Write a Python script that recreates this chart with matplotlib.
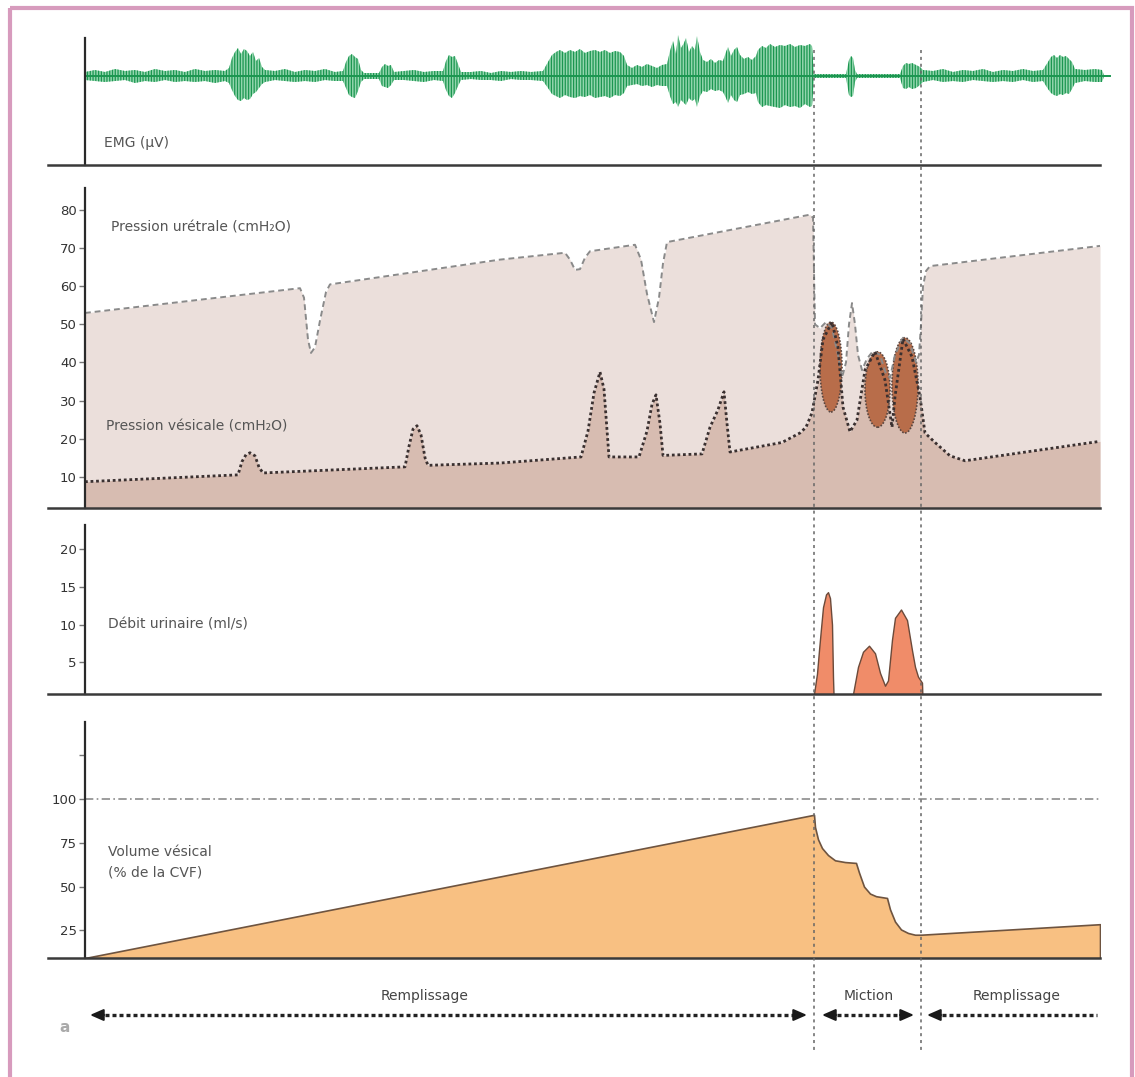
import numpy as np
import matplotlib.pyplot as plt
from matplotlib.patches import Ellipse, Rectangle

W, H = 1135, 1077

# time runs along image columns, the y axes sit at t = 85
miction_start = 814
miction_end = 921

# EMG envelope (amplitude above / below the baseline)
emg_t = [85, 95, 105, 115, 125, 135, 145, 155, 165, 175, 185, 195, 205, 215, 225,
         229, 232, 235, 238, 241, 244, 247, 250, 253, 256, 259, 262, 265,
         275, 285, 295, 305, 315, 325, 335, 343,
         346, 349, 352, 355, 358, 361, 364, 379, 382, 385, 388, 391, 394,
         404, 414, 424, 434, 443, 446, 449, 452, 455, 458, 461,
         471, 481, 491, 501, 511, 521, 531, 543,
         548, 552, 556, 560, 565, 570, 575, 580, 585, 590, 595, 600, 605, 610, 615, 620, 624, 627,
         632, 637, 642, 647, 652, 657, 662, 667,
         670, 673, 676, 678, 681, 684, 686, 689, 692, 695, 697, 700, 703,
         707, 711, 715, 719, 723, 726, 728, 731, 734, 737, 740, 744, 748, 752, 756,
         758, 762, 766, 770, 775, 780, 785, 790, 795, 800, 805, 810, 812,
         814, 846, 849, 851, 853, 855, 857, 900, 903, 906, 909, 912, 916, 920, 923,
         933, 943, 953, 963, 973, 983, 993, 1003, 1013, 1023, 1033, 1043,
         1048, 1051, 1054, 1057, 1060, 1063, 1066, 1069, 1072, 1075,
         1085, 1095, 1102, 1104, 1110]
emg_up = [4, 6, 4, 7, 5, 6, 4, 7, 5, 6, 4, 7, 5, 6, 5,
          8, 18, 24, 28, 22, 27, 25, 20, 24, 15, 18, 9, 6,
          5, 7, 4, 6, 5, 7, 4, 5,
          14, 20, 22, 19, 17, 6, 3, 3, 9, 12, 10, 11, 4,
          5, 6, 4, 5, 5, 15, 21, 19, 20, 12, 4,
          4, 5, 3, 5, 4, 5, 4, 5,
          14, 21, 24, 26, 23, 26, 24, 27, 23, 25, 26, 24, 26, 23, 25, 24, 20, 11,
          8, 11, 9, 12, 10, 8, 11, 12,
          25, 35, 22, 41, 28, 33, 38, 24, 30, 26, 40, 24, 16,
          14, 17, 13, 16, 15, 24, 29, 20, 26, 29, 21, 17, 19, 16, 20,
          26, 30, 28, 32, 29, 31, 30, 32, 29, 31, 30, 32, 30,
          2, 2, 16, 20, 18, 6, 2, 2, 10, 13, 12, 13, 11, 9, 6,
          5, 7, 4, 6, 5, 7, 4, 6, 5, 7, 5, 6,
          14, 19, 21, 18, 21, 19, 20, 17, 14, 7,
          6, 7, 6, 1, 1]
emg_dn = [4, 5, 6, 5, 4, 7, 5, 6, 4, 6, 5, 6, 5, 7, 5,
          7, 14, 20, 24, 25, 22, 24, 23, 18, 16, 12, 8, 6,
          4, 5, 6, 5, 6, 4, 5, 5,
          12, 19, 21, 22, 15, 6, 3, 3, 10, 11, 12, 9, 4,
          4, 5, 6, 4, 5, 14, 20, 22, 17, 10, 4,
          3, 4, 4, 5, 3, 4, 4, 5,
          12, 18, 20, 22, 19, 21, 22, 20, 21, 19, 22, 21, 20, 22, 19, 20, 17, 10,
          9, 8, 10, 9, 11, 9, 10, 10,
          20, 28, 26, 31, 24, 27, 29, 22, 25, 23, 31, 20, 15,
          16, 13, 15, 14, 16, 22, 27, 19, 24, 26, 19, 18, 16, 18, 17,
          26, 31, 29, 30, 31, 32, 29, 31, 30, 32, 28, 31, 30,
          2, 2, 19, 21, 20, 6, 2, 2, 12, 13, 11, 13, 12, 9, 6,
          4, 6, 5, 6, 4, 5, 6, 5, 6, 4, 6, 5,
          13, 17, 19, 20, 18, 19, 17, 18, 13, 7,
          5, 6, 6, 1, 1]

# urethral pressure (cmH2O)
ure_t = [85, 300, 304, 308, 311, 315, 320, 326, 330, 500, 565, 570, 575, 580, 585, 590,
         635, 641, 647, 654, 659, 663, 667, 810, 813, 815, 820, 826, 832, 838, 842, 846,
         849, 852, 855, 858, 862, 867, 873, 880, 886, 890, 895, 903, 910, 916, 919, 921,
         923, 926, 930, 1100]
ure_p = [53, 59.5, 57, 46, 42.5, 44, 51, 58.5, 60.5, 67, 68.8, 67, 64.3, 64.5, 67.5, 69.2,
         70.9, 67, 58, 50.6, 57, 66, 71.6, 78.8, 78, 50, 49, 50.6, 49, 42, 36, 40,
         50, 55.6, 50, 42, 38, 41, 43, 42, 37, 36, 42, 46.5, 45, 40, 42, 50,
         60, 64, 65.3, 70.6]

# bladder pressure (cmH2O)
ves_t = [85, 238, 242, 246, 250, 255, 259, 263, 405, 409, 413, 417, 421, 425, 428, 500,
         581, 588, 594, 600, 604, 609, 639, 647, 652, 656, 660, 663, 702, 710, 718, 724,
         727, 730, 782, 800, 806, 812, 818, 823, 832, 838, 843, 850, 857, 865, 875, 885,
         892, 895, 903, 912, 920, 925, 935, 950, 965, 1100]
ves_p = [8.7, 10.5, 14, 15.8, 16.3, 15.5, 12.5, 11, 12.6, 18, 22.5, 23.4, 21, 15, 13, 13.6,
         15.2, 22, 32, 37.5, 33, 15.2, 15.2, 22, 29, 31.5, 24, 15.6, 16, 23, 27.6, 32.3,
         24, 16.5, 19, 21.5, 23, 26.8, 35.4, 46, 50.6, 44, 28.3, 21.8, 24.9, 38, 42.8, 35.4,
         23, 31, 46.2, 41.5, 31, 21.5, 19, 15.5, 14.2, 19.3]

# detrusor contractions shaded during voiding
contr_t = [831, 877.5, 905]
contr_w = [22, 25, 26]
contr_lo = [27, 23, 21.5]
contr_hi = [50.6, 42.8, 46.5]

# urinary flow (ml/s)
flow_t = [812, 814, 817, 819, 821, 823, 826, 828, 830, 832, 833, 833.5, 835,
          851, 853, 858, 863, 869, 875, 880, 885, 888, 892, 895, 901, 907, 912,
          915, 918, 922, 922.5]
flow_q = [0, 0.8, 3.5, 6.6, 9.5, 12.3, 14, 14.3, 13.5, 10, 3, 0.8, 0,
          0, 0.8, 4.4, 6.4, 7.2, 6.2, 3.6, 1.9, 2.6, 8, 10.9, 12, 10.6, 6.6,
          4.4, 3.1, 2.3, 0]

# bladder volume (% of CVF)
vol_t = [85, 814, 815, 818, 822, 828, 835, 845, 856, 859, 864, 870, 876, 887, 890,
         895, 901, 908, 915, 921, 1100]
vol_v = [9.2, 91, 84, 77, 72, 68, 65, 64, 63.5, 58, 50, 46, 44.5, 43.5, 37,
         30, 25.5, 23.5, 22.5, 22.5, 28.5]

phase_names = ['Remplissage', 'Miction', 'Remplissage']
phase_t0 = [90, 822, 927]
phase_t1 = [807, 914, 1097]
phase_right_head = [True, True, False]
phase_label_t = [425, 869, 1017]

plt.rcParams['font.family'] = ['DejaVu Sans']
plt.rcParams['hatch.linewidth'] = 0.9

fig = plt.figure(figsize=(W / 100, H / 100), dpi=100)
fig.patch.set_facecolor('white')


def px_axes(y0, y1):
    return fig.add_axes([48 / W, 1 - y1 / H, (1100 - 48) / W, (y1 - y0) / H])


def style(ax, lo, hi, ticks=None, labels=None):
    ax.set_xlim(48, 1100)
    ax.set_ylim(lo, hi)
    ax.patch.set_alpha(0)
    for s in ('top', 'right'):
        ax.spines[s].set_visible(False)
    ax.spines['left'].set_position(('data', 85))
    ax.spines['left'].set_color('#2a2a2a')
    ax.spines['left'].set_linewidth(1.6)
    ax.spines['bottom'].set_color('#3a3a3a')
    ax.spines['bottom'].set_linewidth(1.8)
    ax.set_xticks([])
    if ticks is None:
        ax.set_yticks([])
    else:
        ax.set_yticks(ticks)
        ax.set_yticklabels(labels if labels else [str(v) for v in ticks])
    ax.tick_params(axis='y', length=4, width=1, color='#777', labelsize=9.5,
                   labelcolor='#333', pad=2)


label_kw = dict(fontsize=10, color='#555')

# EMG
ax1 = px_axes(38, 165)
style(ax1, -89, 38)
ax1.fill_between(emg_t, -np.array(emg_dn), emg_up, facecolor='#93d6ae',
                 edgecolor='#1b9650', hatch='||||||', linewidth=0, clip_on=False)
ax1.plot([emg_t[0], emg_t[-1]], [0, 0], color='#1b9650', lw=1.4, clip_on=False)
ax1.text(104, -67, 'EMG (µV)', va='center', ha='left', **label_kw)

# pressures
ax2 = px_axes(188, 508)
style(ax2, 1.8, 85.8, [10, 20, 30, 40, 50, 60, 70, 80])
ax2.fill_between(ure_t, 0, ure_p, color='#ebdfdb', lw=0)
ax2.plot(ure_t, ure_p, color='#8a8a8a', lw=1.4, ls=(0, (3, 2)))
ax2.fill_between(ves_t, 0, ves_p, color='#d7bcb1', lw=0)
for t, w, lo, hi in zip(contr_t, contr_w, contr_lo, contr_hi):
    ax2.add_patch(Ellipse((t, (lo + hi) / 2), w, hi - lo, facecolor='#b86d4a',
                          edgecolor='#5a4640', lw=1.2, ls=(0, (1, 1))))
ax2.plot(ves_t, ves_p, color='#3a3030', lw=2, ls=(0, (1, 1)))
ax2.text(111, 75.5, 'Pression urétrale (cmH₂O)', va='center', ha='left', **label_kw)
ax2.text(106, 23.2, 'Pression vésicale (cmH₂O)', va='center', ha='left', **label_kw)

# flow
ax3 = px_axes(525, 694)
style(ax3, 0.8, 23.2, [5, 10, 15, 20])
ax3.fill_between(flow_t, 0, flow_q, facecolor='#f08c69', edgecolor='#6b4a3a', lw=1)
ax3.text(108, 10, 'Débit urinaire (ml/s)', va='center', ha='left', **label_kw)

# volume
ax4 = px_axes(722, 958)
style(ax4, 9.2, 144, [25, 50, 75, 100, 125], ['25', '50', '75', '100', ''])
ax4.plot([85, 1100], [100, 100], color='#8c8c8c', lw=1.2, ls=(0, (5, 2, 1, 2)))
ax4.fill_between(vol_t, 0, vol_v, facecolor='#f8c082', edgecolor='#6e5440', lw=1.2)
ax4.text(108, 64, 'Volume vésical\n(% de la CVF)', va='center', ha='left',
         linespacing=1.6, **label_kw)

# overlay in pixel coordinates: frame, phase boundaries, arrows
ax0 = fig.add_axes([0, 0, 1, 1], zorder=10)
ax0.set_xlim(0, W)
ax0.set_ylim(H, 0)
ax0.axis('off')
ax0.add_patch(Rectangle((10, 8), 1122, 1090, fill=False, edgecolor='#d79bbd', lw=3))
for t in (miction_start, miction_end):
    ax0.plot([t, t], [50, 1050], color='#666', lw=1.1, ls=(0, (2, 2.5)))

ya = 1015
for name, t0, t1, rh, tl in zip(phase_names, phase_t0, phase_t1, phase_right_head, phase_label_t):
    ax0.plot([t0 + 8, t1 - (8 if rh else 0)], [ya, ya], color='#222', lw=2.4,
             ls=(0, (1.2, 0.9)), solid_capstyle='butt')
    ax0.annotate('', xy=(t0, ya), xytext=(t0 + 14, ya),
                 arrowprops=dict(arrowstyle='-|>,head_length=0.8,head_width=0.35',
                                 color='#1a1a1a', lw=1.5, shrinkA=0, shrinkB=0))
    if rh:
        ax0.annotate('', xy=(t1, ya), xytext=(t1 - 14, ya),
                     arrowprops=dict(arrowstyle='-|>,head_length=0.8,head_width=0.35',
                                     color='#1a1a1a', lw=1.5, shrinkA=0, shrinkB=0))
    ax0.text(tl, 996, name, ha='center', va='center', fontsize=10, color='#444')

ax0.text(65, 1028, 'a', ha='center', va='center', fontsize=11, color='#aaa',
         fontweight='bold')

fig.savefig('out.png', dpi=100)
